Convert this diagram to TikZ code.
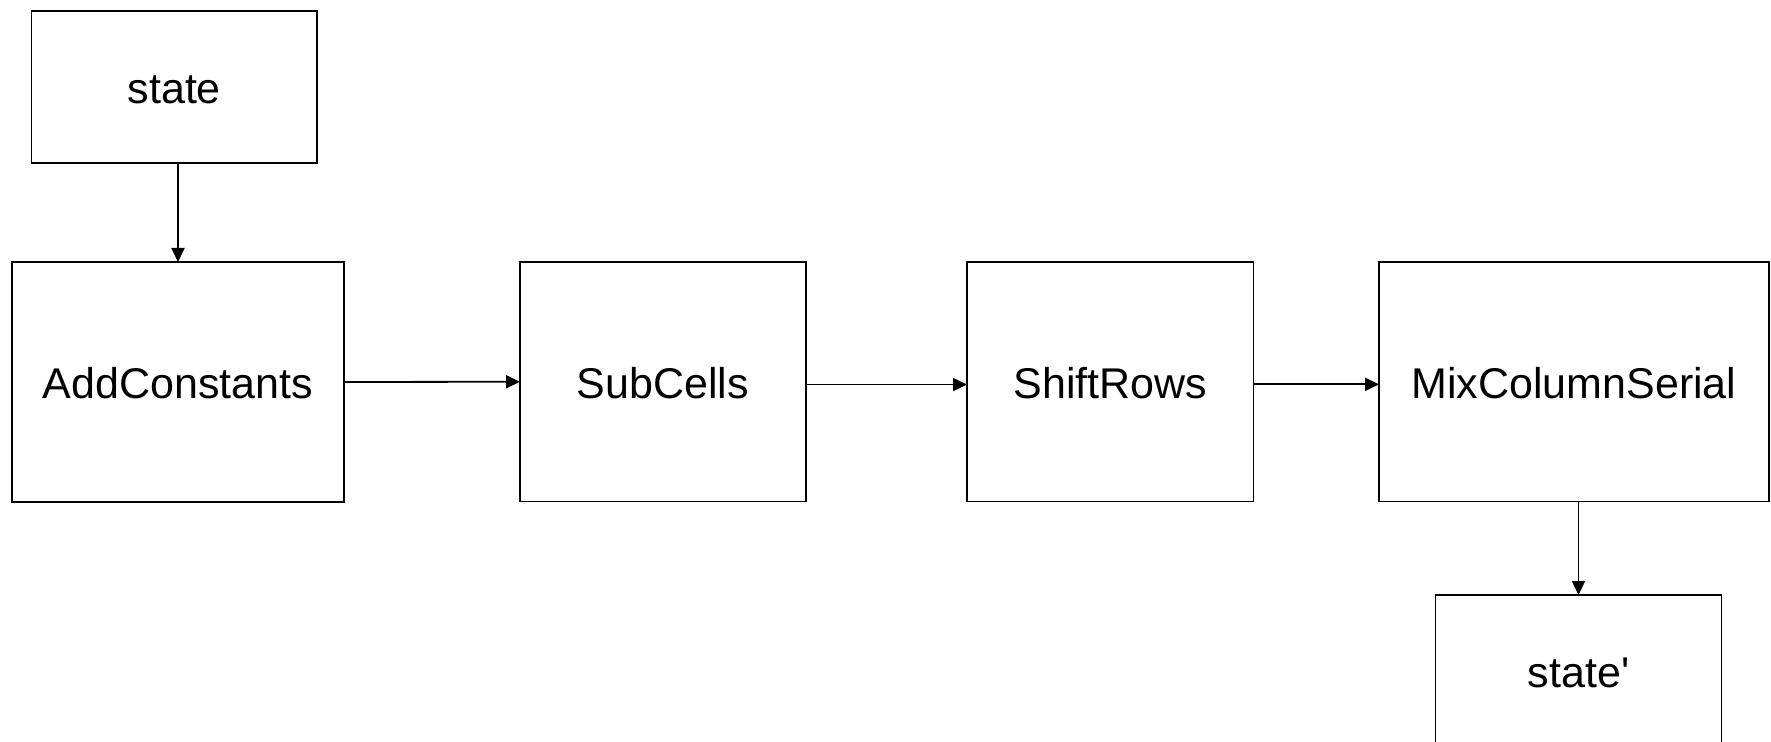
\documentclass[tikz,border=0pt]{standalone}
\usepackage{fontspec}
\setmainfont{Liberation Sans}
\usetikzlibrary{arrows.meta}

\begin{document}
\begin{tikzpicture}[
  x=0.5pt, y=-0.5pt,
  stage/.style={draw=black, line width=0.9pt, fill=white, inner sep=0pt,
                outer sep=0pt, font=\fontsize{21.5pt}{25pt}\selectfont,
                text=black, text height=16.8pt, text depth=0pt},
  arr/.style={draw=black, line width=0.9pt,
              -{Triangle[length=7pt, width=6.5pt]}}
]
  % page area
  \clip (0,0) rectangle (1771,742);
  \fill[white] (0,0) rectangle (1771,742);

  % round stages
  \node[stage, minimum width=142.75pt, minimum height=76pt]
    (state) at (174.25,87) {state};
  \node[stage, minimum width=166pt, minimum height=120pt]
    (add) at (178,382) {AddConstants};
  \node[stage, minimum width=143pt, minimum height=119.75pt]
    (sub) at (663,381.75) {SubCells};
  \node[stage, minimum width=143.25pt, minimum height=119.75pt]
    (shift) at (1110.25,381.75) {ShiftRows};
  \node[stage, minimum width=195pt, minimum height=119.75pt]
    (mix) at (1574,381.75) {MixColumnSerial};
  \node[stage, minimum width=143pt, minimum height=76pt]
    (out) at (1578.5,671) {state\textquotesingle};

  % data flow
  \draw[arr] (state.south -| add.north) -- (add.north);
  \draw[arr] (add.east) -- (sub.west);
  \draw[arr] ([yshift=-1.4pt]sub.east) -- ([yshift=-1.4pt]shift.west);
  \draw[arr] ([yshift=-1.3pt]shift.east) -- ([yshift=-1.3pt]mix.west);
  \draw[arr] (mix.south -| out.north) -- (out.north);
\end{tikzpicture}
\end{document}
